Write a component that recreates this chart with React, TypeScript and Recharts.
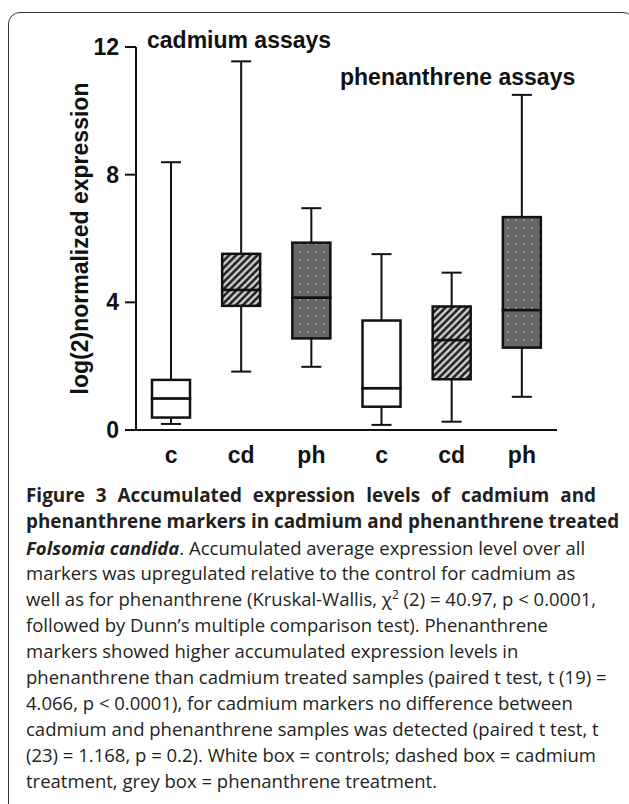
import React from 'react';
import { ComposedChart, Bar, XAxis, YAxis } from 'recharts';

// ---- data ----
const groups = ['c', 'cd', 'ph', 'c', 'cd', 'ph'];
const treatments = ['control', 'cadmium', 'phenanthrene', 'control', 'cadmium', 'phenanthrene'];
const whiskerLow = [0.19, 1.83, 1.98, 0.16, 0.26, 1.04];
const quartile1 = [0.39, 3.89, 2.87, 0.73, 1.59, 2.58];
const medians = [0.99, 4.39, 4.15, 1.31, 2.82, 3.76];
const quartile3 = [1.57, 5.52, 5.87, 3.43, 3.87, 6.67];
const whiskerHigh = [8.39, 11.55, 6.95, 5.51, 4.93, 10.5];
const yTicks = [0, 4, 8, 12];
const yLabel = 'log(2)normalized expression';
const annotations = ['cadmium assays', 'phenanthrene assays'];

const data = groups.map((g, i) => ({
  key: i,
  label: g,
  treatment: treatments[i],
  base: whiskerLow[i],
  lowWhisker: quartile1[i] - whiskerLow[i],
  lowBox: medians[i] - quartile1[i],
  highBox: quartile3[i] - medians[i],
  highWhisker: whiskerHigh[i] - quartile3[i],
}));

const INK = '#111111';
const chartFont = '"Liberation Sans", Arial, sans-serif';

const fillFor = (t: string) =>
  t === 'cadmium' ? 'url(#hatchCd)' : t === 'phenanthrene' ? 'url(#dotsPh)' : '#ffffff';

const BoxShape = (props: any) => {
  const { x, y, width, height, payload } = props;
  return (
    <rect x={x} y={y} width={width} height={height} fill={fillFor(payload.treatment)} stroke={INK} strokeWidth={2.5} />
  );
};

const LowWhisker = (props: any) => {
  const { x, y, width, height } = props;
  const cx = x + width / 2;
  const yb = y + height;
  return (
    <g>
      <line x1={cx} x2={cx} y1={y} y2={yb} stroke={INK} strokeWidth={2} />
      <line x1={cx - 10} x2={cx + 10} y1={yb} y2={yb} stroke={INK} strokeWidth={2} />
    </g>
  );
};

const HighWhisker = (props: any) => {
  const { x, y, width, height } = props;
  const cx = x + width / 2;
  return (
    <g>
      <line x1={cx} x2={cx} y1={y} y2={y + height} stroke={INK} strokeWidth={2} />
      <line x1={cx - 10} x2={cx + 10} y1={y} y2={y} stroke={INK} strokeWidth={2} />
    </g>
  );
};

const Empty = () => <g />;

const captionLines: React.ReactNode[] = [
  <b style={{ wordSpacing: '6px' }}>Figure 3 Accumulated expression levels of cadmium and</b>,
  <b>phenanthrene markers in cadmium and phenanthrene treated</b>,
  <span><b><i>Folsomia candida</i></b>. Accumulated average expression level over all</span>,
  <span>markers was upregulated relative to the control for cadmium as</span>,
  <span>well as for phenanthrene (Kruskal-Wallis, χ<sup style={{ fontSize: '0.65em', lineHeight: 0 }}>2</sup> (2) = 40.97, p &lt; 0.0001,</span>,
  <span>followed by Dunn’s multiple comparison test). Phenanthrene</span>,
  <span>markers showed higher accumulated expression levels in</span>,
  <span>phenanthrene than cadmium treated samples (paired t test, t (19) =</span>,
  <span>4.066, p &lt; 0.0001), for cadmium markers no difference between</span>,
  <span>cadmium and phenanthrene samples was detected (paired t test, t</span>,
  <span>(23) = 1.168, p = 0.2). White box = controls; dashed box = cadmium</span>,
  <span>treatment, grey box = phenanthrene treatment.</span>,
];

export default function App() {
  return (
    <div
      style={{
        position: 'absolute',
        left: 0,
        top: 0,
        width: 629,
        height: 804,
        overflow: 'hidden',
        background: '#ffffff',
      }}
    >
      {/* frame */}
      <div
        style={{
          position: 'absolute',
          left: 8,
          top: 12,
          width: 627,
          height: 830,
          border: '1.5px solid #333',
          borderRadius: 12,
          boxSizing: 'border-box',
        }}
      />
      <div style={{ position: 'absolute', left: 0, top: 0 }}>
        <ComposedChart
          width={629}
          height={480}
          data={data}
          margin={{ top: 47, right: 72, bottom: 10, left: 66 }}
          barCategoryGap={0}
        >
          <defs>
            <pattern id="hatchCd" patternUnits="userSpaceOnUse" width="5" height="5" patternTransform="rotate(45)">
              <rect width="5" height="5" fill="#d2d2d2" />
              <line x1="2.5" y1="0" x2="2.5" y2="5" stroke="#111" strokeWidth="2.4" />
            </pattern>
            <pattern id="dotsPh" patternUnits="userSpaceOnUse" width="8" height="8">
              <rect width="8" height="8" fill="#666666" />
              <circle cx="4" cy="4" r="0.9" fill="#a8a8a8" />
            </pattern>
          </defs>
          <XAxis
            dataKey="key"
            type="category"
            height={40}
            tickLine={false}
            tickSize={0}
            tickMargin={17}
            axisLine={{ stroke: INK, strokeWidth: 2 }}
            tickFormatter={(v: any) => groups[Number(v)]}
            tick={{ fill: INK, fontSize: 23, fontWeight: 700, fontFamily: chartFont }}
            interval={0}
          />
          <YAxis
            type="number"
            domain={[0, 12]}
            ticks={yTicks}
            width={70}
            tickSize={11}
            tickMargin={6}
            axisLine={{ stroke: INK, strokeWidth: 2 }}
            tickLine={{ stroke: INK, strokeWidth: 2 }}
            tick={{ fill: INK, fontSize: 23, fontWeight: 700, fontFamily: chartFont }}
            label={{
              value: yLabel,
              angle: -90,
              position: 'insideLeft',
              offset: 14,
              style: { textAnchor: 'middle', fill: INK, fontSize: 23, fontWeight: 700, fontFamily: chartFont },
            }}
          />
          <Bar dataKey="base" stackId="box" barSize={38} shape={<Empty />} isAnimationActive={false} />
          <Bar dataKey="lowWhisker" stackId="box" barSize={38} shape={<LowWhisker />} isAnimationActive={false} />
          <Bar dataKey="lowBox" stackId="box" barSize={38} shape={<BoxShape />} isAnimationActive={false} />
          <Bar dataKey="highBox" stackId="box" barSize={38} shape={<BoxShape />} isAnimationActive={false} />
          <Bar dataKey="highWhisker" stackId="box" barSize={38} shape={<HighWhisker />} isAnimationActive={false} />
        </ComposedChart>
      </div>
      {/* annotations */}
      <div
        style={{
          position: 'absolute',
          left: 147,
          top: 28.5,
          fontFamily: chartFont,
          fontWeight: 700,
          fontSize: 23,
          lineHeight: '23px',
          color: INK,
          whiteSpace: 'nowrap',
        }}
      >
        {annotations[0]}
      </div>
      <div
        style={{
          position: 'absolute',
          left: 340,
          top: 65.5,
          fontFamily: chartFont,
          fontWeight: 700,
          fontSize: 23,
          lineHeight: '23px',
          color: INK,
          whiteSpace: 'nowrap',
        }}
      >
        {annotations[1]}
      </div>
      {/* caption */}
      <div
        style={{
          position: 'absolute',
          left: 26,
          top: 482.7,
          fontFamily: '"Open Sans", "Noto Sans", sans-serif',
          fontSize: 18.5,
          lineHeight: '25.9px',
          color: '#231f20',
        }}
      >
        {captionLines.map((l, i) => (
          <div key={i} style={{ whiteSpace: 'nowrap', fontSize: i < 2 ? 18.9 : 18.5 }}>
            {l}
          </div>
        ))}
      </div>
    </div>
  );
}
